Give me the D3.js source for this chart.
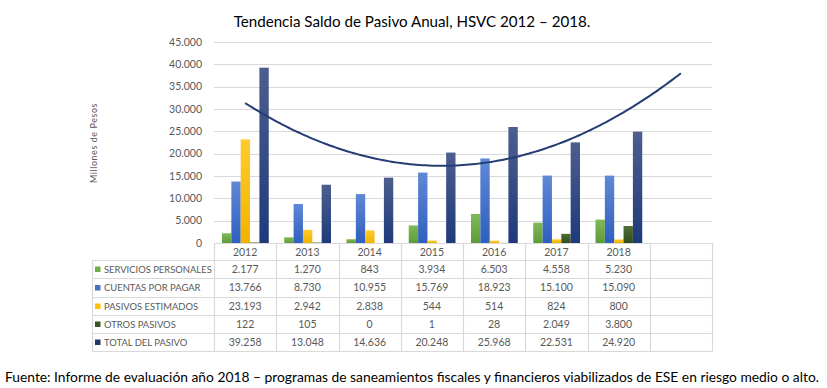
<!DOCTYPE html>
<html><head><meta charset="utf-8">
<script src="https://cdn.jsdelivr.net/npm/d3@7"></script>
<style>body{margin:0;background:#fff;}svg{display:block;}</style>
</head><body>
<svg id="c" width="827" height="388"></svg>
<script>
const years = ["2012","2013","2014","2015","2016","2017","2018"];
const seriesNames = ["SERVICIOS PERSONALES","CUENTAS POR PAGAR","PASIVOS ESTIMADOS","OTROS PASIVOS","TOTAL DEL PASIVO"];
const serviciosPersonales = [2177,1270,843,3934,6503,4558,5230];
const cuentasPorPagar = [13766,8730,10955,15769,18923,15100,15090];
const pasivosEstimados = [23193,2942,2838,544,514,824,800];
const otrosPasivos = [122,105,0,1,28,2049,3800];
const totalPasivo = [39258,13048,14636,20248,25968,22531,24920];
const yTicks = [0,5000,10000,15000,20000,25000,30000,35000,40000,45000];
const yTickLabels = ["0","5.000","10.000","15.000","20.000","25.000","30.000","35.000","40.000","45.000"];
const tableLabels = [
  ["2.177","1.270","843","3.934","6.503","4.558","5.230"],
  ["13.766","8.730","10.955","15.769","18.923","15.100","15.090"],
  ["23.193","2.942","2.838","544","514","824","800"],
  ["122","105","0","1","28","2.049","3.800"],
  ["39.258","13.048","14.636","20.248","25.968","22.531","24.920"]
];
const title = "Tendencia Saldo de Pasivo Anual, HSVC 2012 \u2013 2018.";
const footer = "Fuente: Informe de evaluaci\u00f3n a\u00f1o 2018 \u2013 programas de saneamientos fiscales y financieros viabilizados de ESE en riesgo medio o alto.";
const yLabel = "Millones de Pesos";

const series = [serviciosPersonales, cuentasPorPagar, pasivosEstimados, otrosPasivos, totalPasivo];
const colorsTop = ["#80b857","#6088d6","#ffcb2e","#4f6e36","#4d5e8e"];
const colorsBot = ["#5f9c38","#2f5fbf","#f0b400","#304e1d","#1e3a7b"];
const legendColors = ["#70ad47","#4472c4","#ffc000","#375623","#203864"];

const svg = d3.select("#c");
const font = "Lato, 'Open Sans', sans-serif";
const grey = "#595959";
const gridC = "#d9d9d9";

const x = d3.scaleBand().domain([...years, ""]).range([214, 712]).padding(0);
const xs = d3.scaleBand().domain(d3.range(series.length)).range([8, x.bandwidth() - 7.5]).padding(0);
const y = d3.scaleLinear().domain([0, 45000]).range([243, 42]);

const defs = svg.append("defs");
series.forEach((s, i) => {
  const g = defs.append("linearGradient").attr("id", "g" + i).attr("x1", 0).attr("y1", 0).attr("x2", 0).attr("y2", 1);
  g.append("stop").attr("offset", "0%").attr("stop-color", colorsTop[i]);
  g.append("stop").attr("offset", "100%").attr("stop-color", colorsBot[i]);
});

// fit helper
function fitText(sel, target) {
  const w = sel.node().getComputedTextLength();
  const fs = parseFloat(sel.attr("font-size"));
  sel.attr("font-size", fs * target / w);
}

// gridlines
svg.append("g").selectAll("line").data(yTicks.slice(1)).join("line")
  .attr("x1", 214).attr("x2", 712)
  .attr("y1", d => Math.round(y(d)) + 0.5).attr("y2", d => Math.round(y(d)) + 0.5)
  .attr("stroke", gridC).attr("stroke-width", 1.2);

// y tick labels
svg.append("g").selectAll("text").data(yTicks).join("text")
  .attr("x", 202).attr("y", d => y(d) + 3.5)
  .attr("text-anchor", "end").attr("font-family", font).attr("font-size", 10.5).attr("fill", grey)
  .text((d, i) => yTickLabels[i]);

// y label
const yl = svg.append("text").attr("transform", "translate(97,143) rotate(-90)")
  .attr("text-anchor", "middle").attr("font-family", font).attr("font-size", 9).attr("fill", grey)
  .attr("letter-spacing", 0.6)
  .text(yLabel);
fitText(yl, 80);

// bars
series.forEach((s, i) => {
  svg.append("g").selectAll("rect").data(s).join("rect")
    .attr("x", (d, j) => x(years[j]) + xs(i))
    .attr("width", xs.bandwidth())
    .attr("y", d => y(d))
    .attr("height", d => y(0) - y(d))
    .attr("fill", `url(#g${i})`);
});

// trendline: polynomial (order 2) least squares fit of total, forecast forward 1 period
(function () {
  const n = totalPasivo.length;
  const xsVals = d3.range(1, n + 1);
  const S = k => d3.sum(xsVals, v => Math.pow(v, k));
  const Sy = k => d3.sum(xsVals, (v, i) => Math.pow(v, k) * totalPasivo[i]);
  const A = [[n, S(1), S(2)], [S(1), S(2), S(3)], [S(2), S(3), S(4)]];
  const B = [Sy(0), Sy(1), Sy(2)];
  for (let c = 0; c < 3; c++) {
    for (let r = c + 1; r < 3; r++) {
      const f = A[r][c] / A[c][c];
      for (let k = c; k < 3; k++) A[r][k] -= f * A[c][k];
      B[r] -= f * B[c];
    }
  }
  const coef = [0, 0, 0];
  for (let r = 2; r >= 0; r--) {
    let s = B[r];
    for (let k = r + 1; k < 3; k++) s -= A[r][k] * coef[k];
    coef[r] = s / A[r][r];
  }
  const xt = d3.scaleLinear().domain([1, n + 1]).range([x(years[0]) + x.bandwidth() / 2, x("") + x.bandwidth() / 2]);
  const pts = d3.range(1, n + 1.001, 0.05).map(t => [xt(t), y(coef[0] + coef[1] * t + coef[2] * t * t)]);
  svg.append("path").attr("d", d3.line()(pts))
    .attr("fill", "none").attr("stroke", "#243d73").attr("stroke-width", 2);
})();

// table
const rowTop = [243, 260, 278, 297, 315, 333];
const rowBot = 351;
const tbl = svg.append("g");
tbl.append("line").attr("x1", 214).attr("x2", 712).attr("y1", 243.5).attr("y2", 243.5).attr("stroke", gridC).attr("stroke-width", 1.2);
rowTop.slice(1).concat([rowBot]).forEach(yy => {
  tbl.append("line").attr("x1", 92).attr("x2", 712).attr("y1", yy + 0.5).attr("y2", yy + 0.5).attr("stroke", gridC).attr("stroke-width", 1.2);
});
const cols = [...years, ""];
cols.forEach(c => {
  tbl.append("line").attr("x1", Math.round(x(c)) + 0.5).attr("x2", Math.round(x(c)) + 0.5).attr("y1", 243).attr("y2", rowBot + 0.5).attr("stroke", gridC).attr("stroke-width", 1.2);
});
tbl.append("line").attr("x1", 712.5).attr("x2", 712.5).attr("y1", 243).attr("y2", rowBot + 0.5).attr("stroke", gridC).attr("stroke-width", 1.2);
tbl.append("line").attr("x1", 92.5).attr("x2", 92.5).attr("y1", 260).attr("y2", rowBot + 0.5).attr("stroke", gridC).attr("stroke-width", 1.2);

tbl.selectAll("text.yr").data(years).join("text").attr("class", "yr")
  .attr("x", d => x(d) + x.bandwidth() / 2).attr("y", 255.5)
  .attr("text-anchor", "middle").attr("font-family", font).attr("font-size", 10.5).attr("fill", grey)
  .text(d => d);

const nameTexts = [];
seriesNames.forEach((name, i) => {
  const top = rowTop[i + 1];
  const bot = i + 2 < rowTop.length ? rowTop[i + 2] : rowBot;
  const cy = (top + bot) / 2;
  tbl.append("rect").attr("x", 95).attr("y", cy - 2.5).attr("width", 5.5).attr("height", 5.5).attr("fill", legendColors[i]);
  nameTexts.push(tbl.append("text").attr("x", 104).attr("y", cy + 3.8)
    .attr("font-family", font).attr("font-size", 10).attr("fill", grey).text(name));
  tbl.selectAll(null).data(tableLabels[i]).join("text")
    .attr("x", (d, j) => x(years[j]) + x.bandwidth() / 2).attr("y", cy + 3.8)
    .attr("text-anchor", "middle").attr("font-family", font).attr("font-size", 10.5).attr("fill", grey)
    .text(d => d);
});
{
  const w = nameTexts[0].node().getComputedTextLength();
  const fs = 10 * 108 / w;
  nameTexts.forEach(t => t.attr("font-size", fs));
}

const t = svg.append("text").attr("x", 412).attr("y", 27).attr("text-anchor", "middle")
  .attr("font-family", font).attr("font-size", 15).attr("fill", "#000").text(title);
fitText(t, 357);

const f = svg.append("text").attr("x", 5).attr("y", 382)
  .attr("font-family", font).attr("font-size", 13).attr("fill", "#000").text(footer);
fitText(f, 815);
</script>
</body></html>
